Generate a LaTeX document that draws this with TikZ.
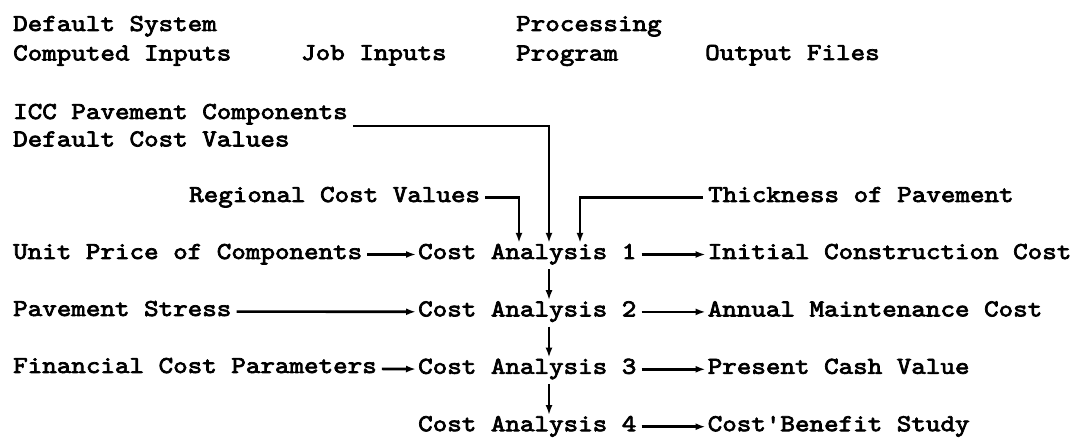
\documentclass[tikz,border=0pt]{standalone}
\usepackage{fontspec}
\newfontfamily\twfont{lmmono10-regular.otf}[FakeStretch=1.14,FakeBold=3]
\usetikzlibrary{positioning,arrows.meta}

\begin{document}
\begin{tikzpicture}[x=1pt,y=-1pt,
        lbl/.style={inner sep=2pt,text height=14pt,text depth=5pt,font=\fontsize{24.3}{29}\twfont},
        flow/.style={line width=2.6pt,shorten <=3pt,-{Latex[length=10pt,width=7pt]}}]
        \useasboundingbox (0,0) rectangle (1076,443);
        \node[lbl,anchor=base west] (dflt) at (11,31) {Default System};
        \node[lbl,below=6pt of dflt.south west,anchor=north west] (cmp) {Computed Inputs};
        \node[lbl,anchor=base west] (job) at (299,60) {Job Inputs};
        \node[lbl,anchor=base west] (proc) at (514,31) {Processing};
        \node[lbl,below=6pt of proc.south west,anchor=north west] (prog) {Program};
        \node[lbl,anchor=base west] (out) at (703,60) {Output Files};
        \node[lbl,anchor=base west] (icc) at (11,119) {ICC Pavement Components};
        \node[lbl,below=4pt of icc.south west,anchor=north west] (dcv) {Default Cost Values};
        \node[lbl,anchor=base west] (reg) at (187,202) {Regional Cost Values};
        \node[lbl,anchor=base west] (thk) at (706,202) {Thickness of Pavement};
        \node[lbl,anchor=base west] (ca1) at (416,259) {Cost Analysis 1};
        \node[lbl,below=34pt of ca1] (ca2) {Cost Analysis 2};
        \node[lbl,below=34pt of ca2] (ca3) {Cost Analysis 3};
        \node[lbl,below=34pt of ca3] (ca4) {Cost Analysis 4};
        \node[lbl,anchor=base west] (unit) at (11,259) {Unit Price of Components};
        \node[lbl,anchor=base west] (strs) at (11,316) {Pavement Stress};
        \node[lbl,anchor=base west] (fin) at (11,373) {Financial Cost Parameters};
        \node[lbl,right=67pt of ca1] (init) {Initial Construction Cost};
        \node[lbl,right=67pt of ca2] (maint) {Annual Maintenance Cost};
        \node[lbl,right=67pt of ca3] (cash) {Present Cash Value};
        \node[lbl,right=67pt of ca4] (cbs) {Cost'Benefit Study};
        \coordinate (col) at (549,0);
        \coordinate (colr) at (519,0);
        \coordinate (colt) at (580,0);
        \draw[flow] (icc.south east) -| (col |- ca1.north);
        \draw[flow] (reg.east) -| (colr |- ca1.north);
        \draw[flow] (thk.west) -| (colt |- ca1.north);
        \draw[flow] (unit) -- (ca1);
        \draw[flow] (strs) -- (ca2);
        \draw[flow] (fin) -- (ca3);
        \draw[flow] (ca1) -- (init);
        \draw[flow] (ca2) -- (maint);
        \draw[flow] (ca3) -- (cash);
        \draw[flow] (ca4) -- (cbs);
        \draw[flow] (col |- ca1.south) -- (col |- ca2.north);
        \draw[flow] (col |- ca2.south) -- (col |- ca3.north);
        \draw[flow] (col |- ca3.south) -- (col |- ca4.north);
\end{tikzpicture}
\end{document}
